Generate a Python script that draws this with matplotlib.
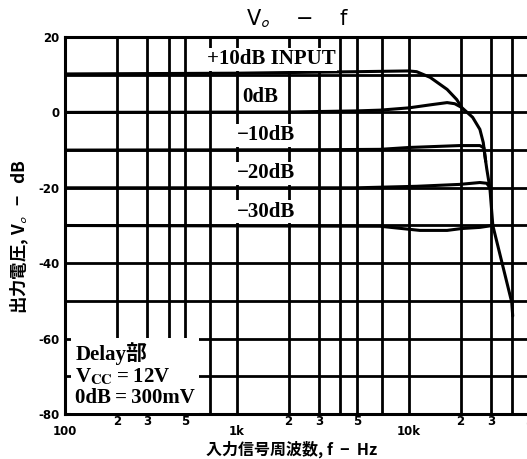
import matplotlib
matplotlib.use("Agg")
import matplotlib.pyplot as plt
from matplotlib.ticker import FixedLocator, FixedFormatter, NullFormatter

plt.rcParams['mathtext.fontset'] = 'stix'

# ---------------- data ----------------
freq_p10 = [100, 1000, 5000, 10000, 11100, 13300, 16700, 19000, 20300, 23500, 25900, 27100, 28000, 28400, 29600, 30800, 39700, 40200]
vo_p10   = [10.2, 10.4, 10.8, 11.0, 10.8, 9.3, 6.1, 3.4, 1.3, -1.3, -4.5, -8.0, -13.0, -15.0, -20.0, -30.0, -50.4, -54.0]

freq_0 = [100, 2000, 5000, 6800, 10000, 13300, 16700, 18500, 20300]
vo_0   = [0.0, 0.1, 0.4, 0.6, 1.2, 2.0, 2.6, 2.3, 1.3]

freq_m10 = [100, 3000, 6800, 10100, 15100, 19700, 25900, 27300, 28000]
vo_m10   = [-10.0, -9.9, -9.8, -9.3, -9.0, -8.8, -8.8, -9.4, -13.0]

freq_m20 = [100, 5000, 11100, 19700, 25900, 28400, 29600]
vo_m20   = [-20.0, -20.0, -19.6, -19.1, -18.6, -18.8, -20.0]

freq_m30 = [100, 6800, 11600, 16700, 20300, 25900, 29600, 30800]
vo_m30   = [-30.0, -30.2, -31.3, -31.3, -30.8, -30.5, -30.1, -30.0]

curve_labels = ["+10dB INPUT", "0dB", "\u221210dB", "\u221220dB", "\u221230dB"]
label_x = [670, 1080, 1000, 1000, 1000]
label_y = [14.1, 4.0, -6.1, -16.2, -26.3]

y_major = [-80, -60, -40, -20, 0, 20]
y_major_labels = ["-80", "-60", "-40", "-20", "0", "20"]
y_grid = [-70, -50, -30, -10, 10]

x_major = [100, 1000, 10000]
x_major_labels = ["100", "1k", "10k"]
x_minor = [200, 300, 400, 500, 700, 2000, 3000, 4000, 5000, 7000, 20000, 30000, 40000, 50000]
x_minor_labels = ["2", "3", "", "5", "", "2", "3", "", "5", "", "2", "3", "", "5"]

# ---------------- figure ----------------
W, H = 527, 459
fig = plt.figure(figsize=(W / 100, H / 100), dpi=100)
ax = fig.add_axes([65 / W, 1 - 414 / H, (529 - 65) / W, (414 - 37) / H])
ax.set_xscale('log')
ax.set_xlim(100, 50000)
ax.set_ylim(-80, 20)

ax.xaxis.set_major_locator(FixedLocator(x_major))
ax.xaxis.set_major_formatter(FixedFormatter(x_major_labels))
ax.xaxis.set_minor_locator(FixedLocator(x_minor))
ax.xaxis.set_minor_formatter(FixedFormatter(x_minor_labels))
ax.yaxis.set_major_locator(FixedLocator(y_major))
ax.yaxis.set_major_formatter(FixedFormatter(y_major_labels))
ax.yaxis.set_minor_locator(FixedLocator(y_grid))
ax.yaxis.set_minor_formatter(NullFormatter())

gl = dict(color='black', linewidth=2.0)
ax.grid(True, which='both', axis='both', **gl)
ax.set_axisbelow(True)

ax.tick_params(axis='both', which='both', length=0)
ax.tick_params(axis='x', which='major', pad=8, labelsize=8.5)
ax.tick_params(axis='x', which='minor', pad=1, labelsize=8.5)
ax.tick_params(axis='y', which='major', pad=4, labelsize=8.5)
for lab in ax.get_xticklabels(which='both') + ax.get_yticklabels():
    lab.set_fontweight('bold')

for side in ['left', 'bottom', 'top']:
    ax.spines[side].set_linewidth(2.2)
ax.spines['right'].set_visible(False)

lw = 2.2
for fx, fy in [(freq_p10, vo_p10), (freq_0, vo_0), (freq_m10, vo_m10),
               (freq_m20, vo_m20), (freq_m30, vo_m30)]:
    ax.plot(fx, fy, color='black', linewidth=lw, solid_capstyle='round', zorder=3)

serif = ['Liberation Serif', 'Noto Sans CJK JP']
for txt, lx, ly in zip(curve_labels, label_x, label_y):
    ax.text(lx, ly, txt, ha='left', va='center', fontsize=15, fontweight='bold',
            family=serif, zorder=4,
            bbox=dict(facecolor='white', edgecolor='none', pad=1.0))

ax.text(0.022, 0.015,
        "Delay\u90e8\nV$_{\\mathbf{CC}}$\u2009=\u200912V\n0dB\u2009=\u2009300mV",
        transform=ax.transAxes, ha='left', va='bottom', fontsize=15,
        fontweight='bold', family=serif, linespacing=1.1, zorder=4,
        bbox=dict(facecolor='white', edgecolor='none', pad=3))

fig.text(298 / W, 1 - 19 / H, "V$_\\mathsf{o}$    \u2212    f", ha='center', va='center',
         fontsize=15, family=['DejaVu Sans'])

cjk = ['Noto Sans CJK JP', 'DejaVu Sans']
fig.text(20 / W, 1 - 236 / H, "\u51fa\u529b\u96fb\u5727, V$_\\mathsf{o}$   \u2212   dB",
         rotation=90, ha='center', va='center', fontsize=12.5, fontweight='bold', family=cjk)
fig.text(292 / W, 1 - 449 / H, "\u5165\u529b\u4fe1\u53f7\u5468\u6ce2\u6570, f  \u2212  Hz",
         ha='center', va='center', fontsize=11.5, fontweight='bold', family=cjk)

fig.savefig("out.png", dpi=100)
